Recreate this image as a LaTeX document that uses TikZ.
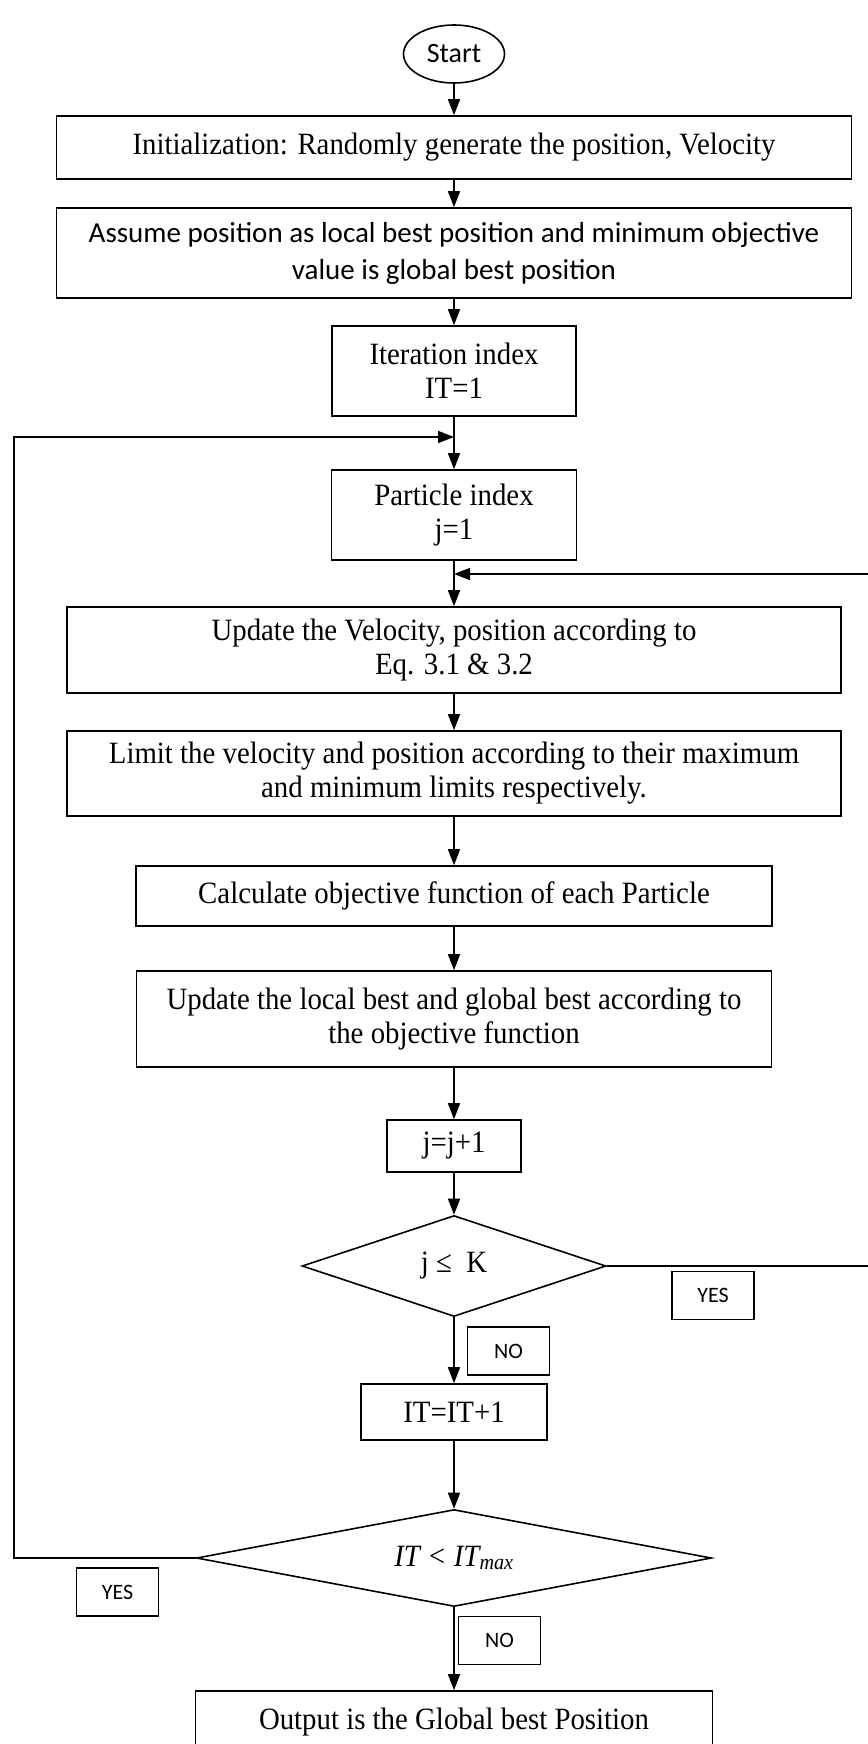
\documentclass[tikz,border=0pt]{standalone}
\usepackage{fontspec}
\setmainfont{Liberation Serif}[FakeStretch=0.93]
\newfontfamily\calibri{Carlito}
\usetikzlibrary{shapes.geometric}
\usetikzlibrary{arrows.meta}

\begin{document}
\begin{tikzpicture}[x=1pt, y=-1pt, line width=1.6pt,
  box/.style={draw, rectangle, inner sep=0pt, align=center,
    font=\fontsize{31}{34}\selectfont},
  sansbox/.style={box, font=\calibri\fontsize{29}{37}\selectfont},
  terminal/.style={draw, ellipse, inner sep=0pt,
    font=\calibri\fontsize{28}{34}\selectfont},
  test/.style={draw, diamond, inner sep=0pt,
    font=\fontsize{31}{34}\selectfont},
  tag/.style={draw, rectangle, inner sep=0pt, line width=1.2pt,
    minimum width=82pt, minimum height=48pt,
    font=\calibri\fontsize{22}{24}\selectfont},
  flow/.style={-{Triangle[length=16pt, width=12pt]}}]
\useasboundingbox (0,0) rectangle (867,1744);

\node[terminal, minimum width=101pt, minimum height=58pt] (start) at (454,54) {Start};
\node[box, minimum width=795pt, minimum height=63pt] (init) at (454,147.5)
    {Initialization: Randomly generate the position, Velocity};
\node[sansbox, minimum width=795pt, minimum height=90pt] (assume) at (454,253)
    {Assume position as local best position and minimum objective\\value is global best position};
\node[box, minimum width=244pt, minimum height=90pt] (iter) at (454,371)
    {Iteration index\\IT=1};
\node[box, minimum width=245pt, minimum height=90pt] (part) at (454,515)
    {Particle index\\j=1};
\node[box, minimum width=774pt, minimum height=86pt] (update) at (454,650)
    {Update the Velocity, position according to\\Eq. 3.1 \& 3.2};
\node[box, minimum width=774pt, minimum height=85pt] (limit) at (454,773.5)
    {Limit the velocity and position according to their maximum\\and minimum limits respectively.};
\node[box, minimum width=636pt, minimum height=60pt] (calc) at (454,896)
    {Calculate objective function of each Particle};
\node[box, minimum width=635pt, minimum height=96pt] (best) at (454,1019)
    {Update the local best and global best according to\\the objective function};
\node[box, minimum width=134pt, minimum height=52pt] (jinc) at (454,1146) {j=j+1};
\node[test, aspect=3, minimum width=304pt, minimum height=101pt] (jtest) at (454,1266)
    {j ≤ \ K};
\node[box, minimum width=186pt, minimum height=56pt] (itinc) at (454,1412) {IT=IT+1};
\node[test, aspect=5.3, minimum width=515pt, minimum height=97pt] (ittest) at (454,1558)
    {\itshape IT < IT\textsubscript{max}};
\node[box, minimum width=517pt, minimum height=63pt] (out) at (454,1722.5)
    {Output is the Global best Position};

\node[tag] (yesj) at (713,1295.5) {YES};
\node[tag] (noj) at (508.5,1351) {NO};
\node[tag] (yesit) at (117.5,1592) {YES};
\node[tag] (noit) at (499.5,1640.5) {NO};

\coordinate (itback) at (454,437);
\coordinate (jback) at (454,574);

\draw[flow] (start) -- (init);
\draw[flow] (init) -- (assume);
\draw[flow] (assume) -- (iter);
\draw (iter) -- (itback);
\draw[flow] (itback) -- (part);
\draw (part) -- (jback);
\draw[flow] (jback) -- (update);
\draw[flow] (update) -- (limit);
\draw[flow] (limit) -- (calc);
\draw[flow] (calc) -- (best);
\draw[flow] (best) -- (jinc);
\draw[flow] (jinc) -- (jtest);
\draw[flow] (jtest) -- (itinc);
\draw[flow] (itinc) -- (ittest);
\draw[flow] (ittest) -- (out);
\draw[flow] (jtest.east) -- ++(280,0) |- (jback);
\draw[flow] (ittest.west) -- ++(-182,0) |- (itback);
\end{tikzpicture}
\end{document}
